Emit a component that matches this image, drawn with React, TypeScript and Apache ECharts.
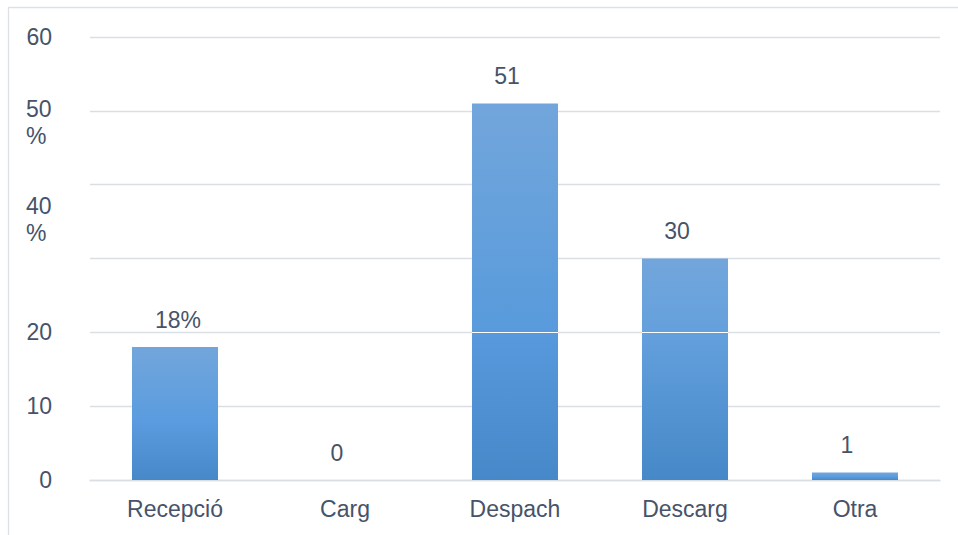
import React, { useEffect, useRef } from "react";
import * as echarts from "echarts";

const categories = ["Recepció", "Carg", "Despach", "Descarg", "Otra"];
const values = [18, 0, 51, 30, 1];
const valueLabels = ["18%", "0", "51", "30", "1"];
const yTicks = [0, 10, 20, 30, 40, 50, 60];
const yTickLabels = ["0", "10", "20", "", "", "", "60"];
const shiftedYLabels = [
  { at: 50, text: "50\n%", dy: -15 },
  { at: 40, text: "40\n%", dy: 8 },
];
const whiteLineAt = 20;

const FONT = "'Liberation Sans', Arial, sans-serif";
const TEXT = "#46536a";
const GRID = "#dadee5";

const baseStops = [
  { offset: 0, c: [0x72, 0xa6, 0xdb] },
  { offset: 0.55, c: [0x5a, 0x9c, 0xdf] },
  { offset: 1, c: [0x46, 0x88, 0xc8] },
];

function colorAt(t: number) {
  for (let i = 0; i < baseStops.length - 1; i++) {
    const a = baseStops[i];
    const b = baseStops[i + 1];
    if (t >= a.offset && t <= b.offset) {
      const k = (t - a.offset) / (b.offset - a.offset);
      const c = a.c.map((v, j) => Math.round(v + (b.c[j] - v) * k));
      return `rgb(${c[0]},${c[1]},${c[2]})`;
    }
  }
  const c = baseStops[baseStops.length - 1].c;
  return `rgb(${c[0]},${c[1]},${c[2]})`;
}

function barColor(v: number, pxPerUnit: number) {
  const stops: { offset: number; color: string }[] = [];
  if (v > whiteLineAt) {
    const f = 1 - whiteLineAt / v;
    const d = 0.8 / (v * pxPerUnit);
    stops.push({ offset: 0, color: colorAt(0) });
    stops.push({ offset: f - d, color: colorAt(f - d) });
    stops.push({ offset: f - d, color: "#ffffff" });
    stops.push({ offset: f + d, color: "#ffffff" });
    stops.push({ offset: f + d, color: colorAt(f + d) });
    stops.push({ offset: 1, color: colorAt(1) });
  } else {
    baseStops.forEach((s) => stops.push({ offset: s.offset, color: colorAt(s.offset) }));
  }
  return new echarts.graphic.LinearGradient(0, 0, 0, 1, stops);
}

export default function App() {
  const ref = useRef<HTMLDivElement>(null);
  useEffect(() => {
    if (!ref.current) return;
    const chart = echarts.init(ref.current, null, { renderer: "svg" });
    const labelMap: Record<number, string> = {};
    yTicks.forEach((t, i) => (labelMap[t] = yTickLabels[i]));
    const top = 37;
    const bottom = 55;
    const pxPerUnit = (535 - top - bottom) / 60;
    chart.setOption({
      animation: false,
      backgroundColor: "#ffffff",
      grid: { left: 90, right: 18, top, bottom, containLabel: false },
      xAxis: {
        type: "category",
        data: categories,
        axisLine: { show: true, lineStyle: { color: GRID, width: 1.3 } },
        axisTick: { show: false },
        axisLabel: { color: TEXT, fontSize: 23, fontFamily: FONT, margin: 17 },
      },
      yAxis: {
        type: "value",
        min: 0,
        max: 60,
        interval: 10,
        axisLine: { show: false },
        axisTick: { show: false },
        splitLine: { lineStyle: { color: GRID, width: 1.3 } },
        axisLabel: {
          color: TEXT,
          fontSize: 23,
          fontFamily: FONT,
          margin: 38,
          formatter: (v: number) => labelMap[v] ?? "",
        },
      },
      series: [
        {
          type: "bar",
          barWidth: "50.6%",
          data: values.map((v, i) => ({
            value: v,
            itemStyle: { color: barColor(v, pxPerUnit) },
            label: { offset: [valueLabels[i].includes("%") ? 3 : -8, 0] },
          })),
          label: {
            show: true,
            position: "top",
            distance: 16,
            color: TEXT,
            fontSize: 23,
            fontFamily: FONT,
            formatter: (p: any) => valueLabels[p.dataIndex],
          },
        },
      ],
    });
    const graphics: any[] = [
      {
        type: "rect",
        shape: { x: 8.5, y: 7.5, width: 1200, height: 1200 },
        style: { fill: "none", stroke: "#dde1e7", lineWidth: 1.3 },
        silent: true,
      },
    ];
    shiftedYLabels.forEach((l) => {
      const y = chart.convertToPixel({ yAxisIndex: 0 }, l.at) as number;
      graphics.push({
        type: "text",
        x: 26,
        y: y + l.dy,
        style: {
          text: l.text,
          fill: TEXT,
          fontSize: 23,
          fontFamily: FONT,
          lineHeight: 27,
          align: "left",
          verticalAlign: "top",
        },
      });
    });
    chart.setOption({ graphic: graphics });
    return () => chart.dispose();
  }, []);
  return (
    <div
      ref={ref}
      style={{ position: "fixed", left: 0, top: 0, width: 958, height: 535 }}
    />
  );
}
